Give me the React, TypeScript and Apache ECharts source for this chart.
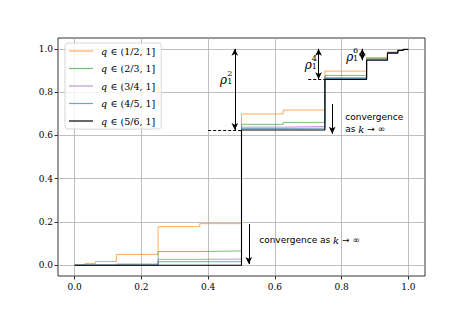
import React, { useEffect, useRef } from 'react';
import * as echarts from 'echarts';

// Step breakpoints (x) shared by all curves
const X_BREAKS = [0, 0.03125, 0.0625, 0.125, 0.25, 0.375, 0.5, 0.625, 0.75, 0.875, 0.9375, 0.96875, 0.984375, 1];

const SERIES_NAMES = ['(1/2, 1]', '(2/3, 1]', '(3/4, 1]', '(4/5, 1]', '(5/6, 1]'];
const SERIES_COLORS = ['#ff7f0e', '#2ca02c', '#9467bd', '#1f77b4', '#000000'];

const Q_HALF = [0, 0.008, 0.017, 0.05, 0.178, 0.192, 0.699, 0.717, 0.897, 0.96, 0.985, 0.995, 0.998, 1];
const Q_TWO_THIRDS = [0, 0, 0, 0.005, 0.063, 0.066, 0.651, 0.66, 0.877, 0.955, 0.984, 0.994, 0.998, 1];
const Q_THREE_QUARTERS = [0, 0, 0, 0, 0.027, 0.028, 0.638, 0.641, 0.867, 0.952, 0.983, 0.994, 0.998, 1];
const Q_FOUR_FIFTHS = [0, 0, 0, 0, 0.016, 0.016, 0.632, 0.633, 0.863, 0.95, 0.982, 0.993, 0.997, 1];
const Q_FIVE_SIXTHS = [0, 0, 0, 0, 0, 0, 0.625, 0.625, 0.859, 0.947, 0.98, 0.992, 0.997, 1];

const SERIES_VALUES = [Q_HALF, Q_TWO_THIRDS, Q_THREE_QUARTERS, Q_FOUR_FIFTHS, Q_FIVE_SIXTHS];

const X_TICKS = [0, 0.2, 0.4, 0.6, 0.8, 1.0];
const Y_TICKS = [0, 0.2, 0.4, 0.6, 0.8, 1.0];

// Annotation anchors (data coordinates)
const RHO_ARROWS = [
  { x: 0.48, from: 1.0, to: 0.625 },
  { x: 0.731, from: 1.0, to: 0.859 },
  { x: 0.862, from: 1.0, to: 0.947 },
];
const DASHED = [
  { y: 0.625, from: 0.4, to: 0.5 },
  { y: 0.859, from: 0.7, to: 0.75 },
];
const DOWN_ARROWS = [
  { x: 0.522, from: 0.19, to: 0.005 },
  { x: 0.772, from: 0.745, to: 0.607 },
];
const RHO_LABELS = [
  { x: 0.457, y: 0.855, sx: 0.465, sy: 0.868, sup: '2' },
  { x: 0.711, y: 0.926, sx: 0.718, sy: 0.936, sup: '4' },
  { x: 0.835, y: 0.963, sx: 0.842, sy: 0.973, sup: '6' },
];

const SERIF = '"DejaVu Serif", "Liberation Serif", serif';
const SANS = '"DejaVu Sans", "Noto Sans", sans-serif';

export default function App() {
  const ref = useRef<HTMLDivElement>(null);
  useEffect(() => {
    const chart = echarts.init(ref.current!, null, { renderer: 'svg' });

    const markLineData: any[] = [];
    RHO_ARROWS.forEach((a) => {
      markLineData.push([
        { coord: [a.x, a.from], symbol: 'arrow', lineStyle: { type: 'solid', color: '#000', width: 1 } },
        { coord: [a.x, a.to], symbol: 'arrow' },
      ]);
    });
    DASHED.forEach((d) => {
      markLineData.push([
        { coord: [d.from, d.y], symbol: 'none', lineStyle: { type: [3, 2], color: '#000', width: 1 } },
        { coord: [d.to, d.y], symbol: 'none' },
      ]);
    });
    DOWN_ARROWS.forEach((a) => {
      markLineData.push([
        { coord: [a.x, a.from], symbol: 'none', lineStyle: { type: 'solid', color: '#000', width: 1 } },
        { coord: [a.x, a.to], symbol: 'arrow' },
      ]);
    });

    const markPointData: any[] = [];
    RHO_LABELS.forEach((r) => {
      markPointData.push({
        coord: [r.x, r.y],
        symbolSize: 0,
        label: {
          show: true,
          position: 'left',
          distance: 0,
          formatter: 'ρ',
          fontFamily: SERIF,
          fontStyle: 'italic',
          fontSize: 12,
          color: '#000',
        },
      });
      markPointData.push({
        coord: [r.sx, r.sy],
        symbolSize: 0,
        label: {
          show: true,
          position: 'inside',
          formatter: r.sup + '\n1',
          fontFamily: SERIF,
          fontSize: 8,
          lineHeight: 8,
          color: '#000',
        },
      });
    });
    markPointData.push({
      coord: [0.553, 0.115],
      symbolSize: 0,
      label: {
        show: true,
        position: 'right',
        distance: 0,
        formatter: '{a|convergence as }{k|k}{a| → ∞}',
        rich: {
          a: { fontFamily: SANS, fontSize: 9, color: '#000' },
          k: { fontFamily: SERIF, fontStyle: 'italic', fontSize: 10, color: '#000' },
        },
      },
    });
    markPointData.push({
      coord: [0.811, 0.657],
      symbolSize: 0,
      label: {
        show: true,
        position: 'right',
        distance: 0,
        formatter: '{a|convergence}\n{a|as }{k|k}{a| → ∞}',
        rich: {
          a: { fontFamily: SANS, fontSize: 9, color: '#000', lineHeight: 12 },
          k: { fontFamily: SERIF, fontStyle: 'italic', fontSize: 10, color: '#000', lineHeight: 12 },
        },
      },
    });

    const series: any[] = SERIES_NAMES.map((name, i) => ({
      name,
      type: 'line',
      step: 'end',
      symbol: 'none',
      data: X_BREAKS.map((x, j) => [x, SERIES_VALUES[i][j]]),
      lineStyle: {
        color: SERIES_COLORS[i],
        width: i === 4 ? 1.1 : 1,
        opacity: i === 4 ? 1 : 0.65,
      },
      itemStyle: { color: SERIES_COLORS[i], opacity: i === 4 ? 1 : 0.65 },
      z: 2 + i,
      silent: true,
    }));

    series.push({
      name: 'annotations',
      type: 'line',
      data: [],
      symbol: 'none',
      silent: true,
      z: 10,
      markLine: {
        silent: true,
        symbolSize: [5, 7],
        label: { show: false },
        emphasis: { disabled: true },
        data: markLineData,
        animation: false,
      },
      markPoint: {
        silent: true,
        symbol: 'circle',
        symbolSize: 0,
        data: markPointData,
        animation: false,
      },
    });

    chart.setOption({
      animation: false,
      grid: {
        left: 58,
        right: 48,
        top: 38,
        bottom: 40,
        show: true,
        borderColor: '#000',
        borderWidth: 0.8,
        backgroundColor: 'transparent',
      },
      legend: {
        data: SERIES_NAMES,
        orient: 'vertical',
        left: 65,
        top: 43,
        padding: [2, 6, 2, 4],
        icon: 'rect',
        itemWidth: 24,
        itemHeight: 1.2,
        itemGap: 5.5,
        backgroundColor: 'rgba(255,255,255,0.8)',
        borderColor: '#cccccc',
        borderWidth: 0.8,
        borderRadius: 3,
        selectedMode: false,
        formatter: (name: string) => `{i|q} {n|∈ ${name}}`,
        textStyle: {
          lineHeight: 12,
          padding: [0, 0, 0, 3],
          rich: {
            i: { fontFamily: SERIF, fontStyle: 'italic', fontSize: 9.5, color: '#000', lineHeight: 12 },
            n: { fontFamily: SERIF, fontSize: 9.5, color: '#000', lineHeight: 12 },
          },
        },
      },
      xAxis: {
        type: 'value',
        min: -0.05,
        max: 1.05,
        axisLine: { show: false, onZero: false },
        axisTick: { show: true, inside: false, length: 3.5, lineStyle: { color: '#000', width: 0.8 }, customValues: X_TICKS },
        axisLabel: {
          customValues: X_TICKS,
          formatter: (v: number) => v.toFixed(1),
          fontFamily: SERIF,
          fontSize: 9,
          color: '#000',
          margin: 6,
        },
        splitLine: { show: true, lineStyle: { color: '#b0b0b0', width: 0.8 } },
      },
      yAxis: {
        type: 'value',
        min: -0.05,
        max: 1.05,
        axisLine: { show: false, onZero: false },
        axisTick: { show: true, inside: false, length: 3.5, lineStyle: { color: '#000', width: 0.8 }, customValues: Y_TICKS },
        axisLabel: {
          customValues: Y_TICKS,
          formatter: (v: number) => v.toFixed(1),
          fontFamily: SERIF,
          fontSize: 9,
          color: '#000',
          margin: 5,
        },
        splitLine: { show: true, lineStyle: { color: '#b0b0b0', width: 0.8 } },
      },
      series,
    });

    return () => chart.dispose();
  }, []);

  return <div ref={ref} style={{ position: 'fixed', left: 0, top: 0, width: 473, height: 316, background: '#fff' }} />;
}
